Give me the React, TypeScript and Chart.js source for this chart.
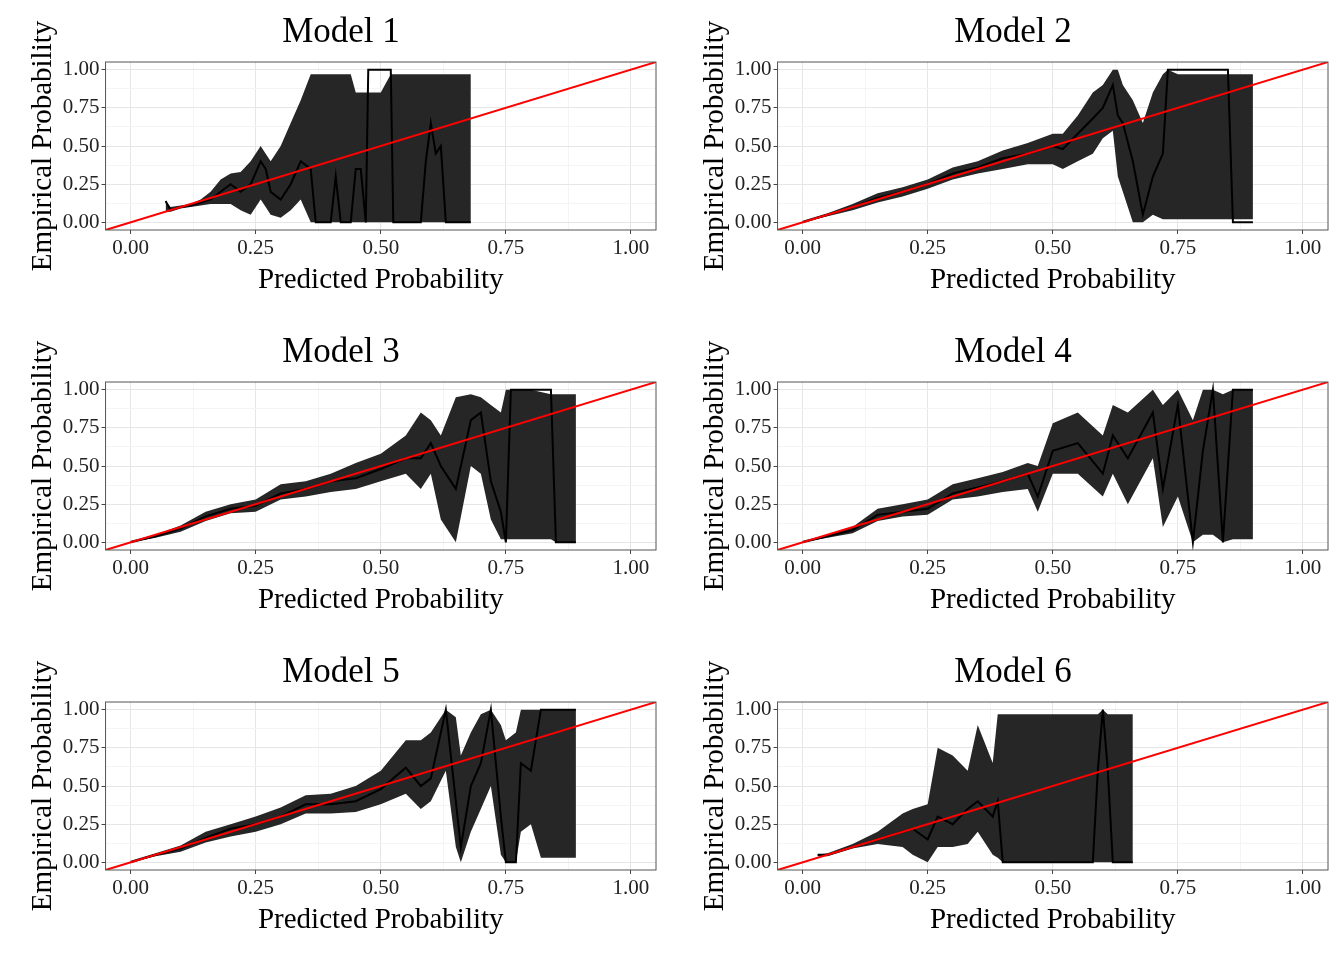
import { useEffect, useRef } from 'react';
import { Chart, registerables } from 'chart.js';

Chart.register(...registerables);

// Model 1
const m1X = [0.07,0.08,0.10,0.12,0.14,0.16,0.18,0.20,0.22,0.24,0.26,0.27,0.28,0.30,0.32,0.34,0.36,0.37,0.40,0.41,0.42,0.44,0.45,0.46,0.47,0.475,0.50,0.52,0.525,0.55,0.58,0.59,0.60,0.61,0.62,0.63,0.68];
const m1Y = [0.14,0.08,0.10,0.11,0.13,0.15,0.20,0.25,0.20,0.25,0.40,0.35,0.20,0.15,0.25,0.40,0.35,0.00,0.00,0.30,0.00,0.00,0.35,0.35,0.00,1.00,1.00,1.00,0.00,0.00,0.00,0.40,0.65,0.45,0.50,0.00,0.00];
const m1Hi = [0.14,0.10,0.11,0.12,0.15,0.20,0.28,0.32,0.33,0.40,0.50,0.45,0.40,0.50,0.65,0.80,0.97,0.97,0.97,0.97,0.97,0.97,0.85,0.85,0.85,0.85,0.85,0.97,0.97,0.97,0.97,0.97,0.97,0.97,0.97,0.97,0.97];
const m1Lo = [0.07,0.07,0.09,0.10,0.11,0.12,0.12,0.12,0.08,0.05,0.15,0.10,0.05,0.03,0.08,0.15,0,0,0,0,0,0,0,0,0,0,0,0,0,0,0,0,0,0,0,0,0];

// Model 2
const m2X = [0,0.05,0.1,0.15,0.2,0.25,0.3,0.35,0.4,0.45,0.5,0.52,0.55,0.58,0.6,0.62,0.63,0.64,0.66,0.68,0.70,0.72,0.73,0.75,0.80,0.85,0.86,0.9];
const m2Y = [0,0.05,0.1,0.16,0.2,0.25,0.32,0.36,0.42,0.45,0.5,0.48,0.58,0.68,0.75,0.9,0.7,0.65,0.4,0.05,0.3,0.45,1.0,1.0,1.0,1.0,0.0,0.0];
const m2Hi = [0.01,0.06,0.12,0.19,0.23,0.28,0.36,0.40,0.47,0.52,0.58,0.58,0.7,0.85,0.9,1.0,1.0,0.9,0.8,0.65,0.85,0.97,1.0,0.97,0.97,0.97,0.97,0.97];
const m2Lo = [0,0.04,0.08,0.13,0.17,0.22,0.28,0.32,0.35,0.38,0.38,0.35,0.4,0.45,0.55,0.6,0.3,0.2,0.0,0.0,0.05,0.02,0.02,0.02,0.02,0.02,0.02,0.02];

// Model 3
const m3X = [0,0.05,0.1,0.15,0.2,0.25,0.3,0.35,0.4,0.45,0.5,0.55,0.58,0.6,0.62,0.65,0.68,0.7,0.72,0.74,0.75,0.76,0.8,0.84,0.85,0.86,0.89];
const m3Y = [0,0.04,0.09,0.17,0.22,0.24,0.32,0.35,0.4,0.42,0.48,0.55,0.55,0.65,0.5,0.35,0.8,0.85,0.4,0.2,0.0,1.0,1.0,1.0,0.0,0.0,0.0];
const m3Hi = [0.01,0.05,0.11,0.2,0.25,0.28,0.38,0.4,0.45,0.52,0.58,0.7,0.85,0.8,0.7,0.95,0.97,0.95,0.9,0.85,1.0,1.0,1.0,0.97,0.97,0.97,0.97];
const m3Lo = [0,0.03,0.07,0.14,0.19,0.2,0.28,0.3,0.33,0.35,0.4,0.45,0.35,0.45,0.15,0.0,0.5,0.45,0.15,0.02,0.02,0.02,0.02,0.02,0.0,0.0,0.0];

// Model 4
const m4X = [0,0.05,0.1,0.15,0.2,0.25,0.3,0.35,0.4,0.45,0.47,0.5,0.55,0.6,0.62,0.65,0.7,0.72,0.75,0.78,0.8,0.82,0.84,0.86,0.9];
const m4Y = [0,0.04,0.08,0.18,0.2,0.22,0.32,0.36,0.4,0.45,0.3,0.6,0.65,0.45,0.7,0.55,0.85,0.35,0.9,0.0,0.6,1.0,0.0,1.0,1.0];
const m4Hi = [0.01,0.05,0.1,0.22,0.25,0.28,0.38,0.42,0.46,0.52,0.5,0.78,0.85,0.7,0.9,0.85,1.0,0.9,1.0,0.8,1.0,1.0,0.97,1.0,1.0];
const m4Lo = [0,0.03,0.06,0.14,0.17,0.18,0.28,0.3,0.33,0.35,0.2,0.45,0.45,0.3,0.45,0.25,0.55,0.1,0.3,0.0,0.05,0.05,0.0,0.02,0.02];

// Model 5
const m5X = [0,0.05,0.1,0.15,0.2,0.25,0.3,0.35,0.4,0.45,0.5,0.55,0.58,0.6,0.63,0.65,0.66,0.68,0.7,0.72,0.74,0.75,0.77,0.78,0.8,0.82,0.85,0.89];
const m5Y = [0,0.05,0.09,0.16,0.22,0.25,0.3,0.38,0.38,0.4,0.48,0.62,0.5,0.55,1.0,0.4,0.1,0.5,0.65,1.0,0.3,0.0,0.0,0.65,0.6,1.0,1.0,1.0];
const m5Hi = [0.01,0.06,0.11,0.2,0.25,0.3,0.36,0.44,0.45,0.5,0.6,0.8,0.8,0.85,1.0,0.95,0.7,0.85,0.97,1.0,0.9,0.8,0.85,1.0,1.0,1.0,1.0,1.0];
const m5Lo = [0,0.04,0.07,0.13,0.17,0.2,0.25,0.32,0.32,0.33,0.38,0.45,0.35,0.4,0.6,0.1,0.0,0.2,0.35,0.5,0.05,0.0,0.0,0.2,0.25,0.03,0.03,0.03];

// Model 6
const m6X = [0.03,0.05,0.1,0.15,0.2,0.22,0.25,0.27,0.3,0.33,0.35,0.38,0.39,0.40,0.45,0.5,0.55,0.58,0.59,0.6,0.61,0.62,0.64,0.66];
const m6Y = [0.05,0.05,0.1,0.15,0.2,0.22,0.15,0.3,0.25,0.35,0.4,0.3,0.4,0.0,0.0,0.0,0.0,0.0,0.6,1.0,0.6,0.0,0.0,0.0];
const m6Hi = [0.05,0.06,0.12,0.2,0.32,0.35,0.38,0.75,0.7,0.6,0.9,0.65,0.97,0.97,0.97,0.97,0.97,0.97,0.97,1.0,0.97,0.97,0.97,0.97];
const m6Lo = [0.04,0.04,0.09,0.12,0.1,0.05,0.0,0.1,0.1,0.12,0.2,0.05,0.03,0,0,0,0,0,0,0,0,0,0,0];

const tickValues = [0, 0.125, 0.25, 0.375, 0.5, 0.625, 0.75, 0.875, 1];

const models = [
  { title: 'Model 1', x: m1X, y: m1Y, hi: m1Hi, lo: m1Lo },
  { title: 'Model 2', x: m2X, y: m2Y, hi: m2Hi, lo: m2Lo },
  { title: 'Model 3', x: m3X, y: m3Y, hi: m3Hi, lo: m3Lo },
  { title: 'Model 4', x: m4X, y: m4Y, hi: m4Hi, lo: m4Lo },
  { title: 'Model 5', x: m5X, y: m5Y, hi: m5Hi, lo: m5Lo },
  { title: 'Model 6', x: m6X, y: m6Y, hi: m6Hi, lo: m6Lo },
];

const FONT = "'Liberation Serif', 'DejaVu Serif', serif";

const borderPlugin = {
  id: 'panelBorder',
  afterDraw(chart: Chart) {
    const { ctx, chartArea: a } = chart;
    ctx.save();
    ctx.strokeStyle = '#555';
    ctx.lineWidth = 1;
    ctx.strokeRect(a.left, a.top, a.right - a.left, a.bottom - a.top);
    ctx.restore();
  },
};

function axis(title: string) {
  return {
    type: 'linear' as const,
    min: -0.05,
    max: 1.05,
    afterBuildTicks: (s: any) => { s.ticks = tickValues.map(v => ({ value: v })); },
    grid: {
      color: (c: any) => (c.index % 2 === 0 ? '#e6e6e6' : '#f4f4f4'),
      tickColor: (c: any) => (c.index % 2 === 0 ? '#444' : 'rgba(0,0,0,0)'),
      tickLength: 4,
    },
    border: { display: false },
    ticks: {
      color: '#222',
      font: { family: FONT, size: 21 },
      padding: 2,
      autoSkip: false,
      maxRotation: 0,
      callback: (v: any) => (Math.abs((v * 4) - Math.round(v * 4)) < 1e-6 ? Number(v).toFixed(2) : ''),
    },
    title: { display: true, text: title, color: '#000', font: { family: FONT, size: 29 }, padding: 0 },
  };
}

function Panel({ m }: { m: typeof models[number] }) {
  const ref = useRef<HTMLCanvasElement>(null);
  useEffect(() => {
    if (!ref.current) return;
    const pts = (ys: number[]) => m.x.map((x, i) => ({ x, y: ys[i] }));
    const chart = new Chart(ref.current, {
      type: 'line',
      data: {
        datasets: [
          { data: pts(m.lo), order: 3, borderWidth: 0, pointRadius: 0, fill: false, borderColor: 'rgba(0,0,0,0)' },
          { data: pts(m.hi), order: 2, borderWidth: 0, pointRadius: 0, fill: '-1', borderColor: 'rgba(0,0,0,0)', backgroundColor: '#262626' },
          { data: pts(m.y), order: 1, borderWidth: 2, pointRadius: 0, fill: false, borderColor: '#000' },
          { data: [{ x: -0.05, y: -0.05 }, { x: 1.05, y: 1.05 }], order: 0, borderWidth: 2, pointRadius: 0, fill: false, borderColor: '#ff0000' },
        ],
      },
      options: {
        animation: false,
        responsive: false,
        layout: { padding: { left: 26, right: 16, top: 0, bottom: 22 } },
        plugins: {
          legend: { display: false },
          tooltip: { enabled: false },
          title: { display: true, text: m.title, color: '#000', font: { family: FONT, size: 35, weight: 'normal' }, padding: { top: 12, bottom: 8 } },
        },
        scales: {
          x: axis('Predicted Probability'),
          y: axis('Empirical Probability'),
        },
      },
      plugins: [borderPlugin],
    });
    return () => chart.destroy();
  }, [m]);
  return <canvas ref={ref} width={672} height={320} style={{ width: 672, height: 320, display: 'block' }} />;
}

export default function App() {
  return (
    <div style={{ display: 'grid', gridTemplateColumns: '672px 672px', margin: -8, background: '#fff' }}>
      {models.map(m => <Panel key={m.title} m={m} />)}
    </div>
  );
}
